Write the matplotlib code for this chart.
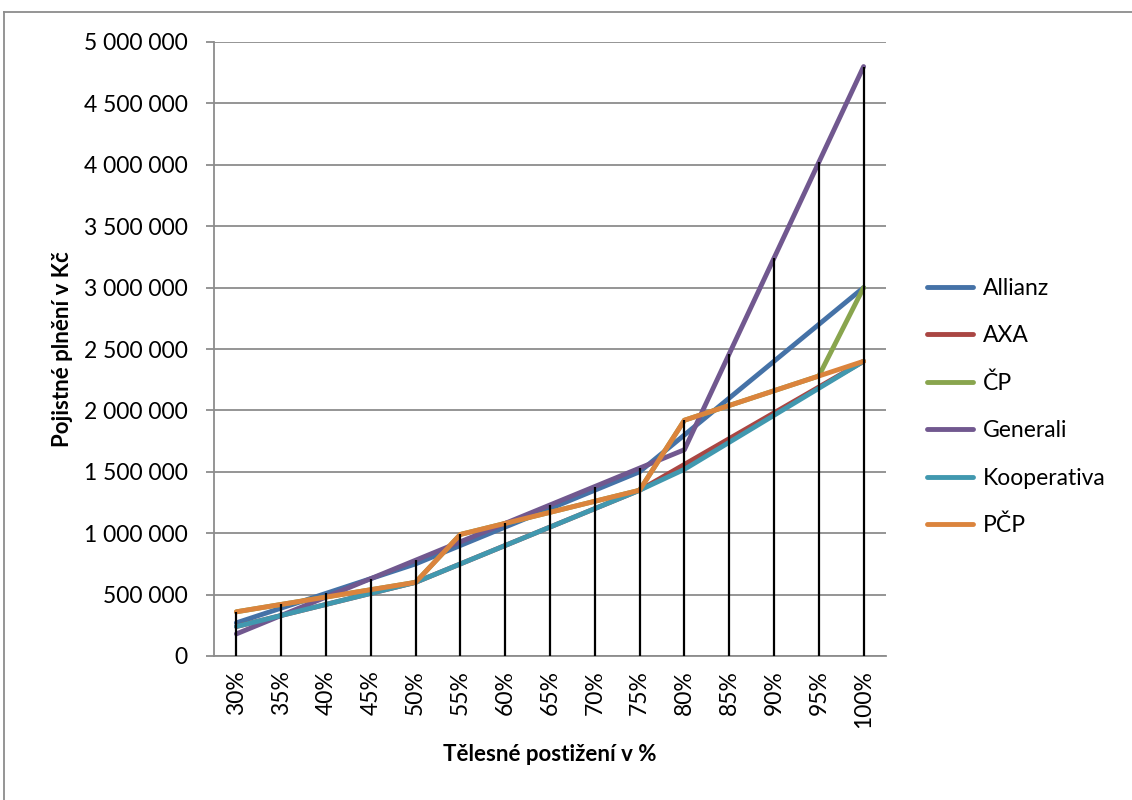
import numpy as np
import matplotlib.pyplot as plt
from matplotlib.lines import Line2D

plt.rcParams['font.family'] = ['Lato', 'DejaVu Sans']

kategorie = ['30%', '35%', '40%', '45%', '50%', '55%', '60%', '65%',
             '70%', '75%', '80%', '85%', '90%', '95%', '100%']

# pojistné plnění v Kč
allianz = [270000, 390000, 510000, 630000, 750000, 900000, 1050000, 1200000,
           1350000, 1500000, 1800000, 2100000, 2400000, 2700000, 3000000]
axa = [240000, 330000, 420000, 510000, 600000, 750000, 900000, 1050000,
       1200000, 1350000, 1560000, 1770000, 1980000, 2190000, 2400000]
cp = [360000, 420000, 480000, 540000, 600000, 990000, 1080000, 1170000,
      1260000, 1350000, 1920000, 2040000, 2160000, 2280000, 3000000]
generali = [180000, 330000, 480000, 630000, 780000, 930000, 1080000, 1230000,
            1380000, 1530000, 1680000, 2460000, 3240000, 4020000, 4800000]
kooperativa = [240000, 330000, 420000, 510000, 600000, 750000, 900000, 1050000,
               1200000, 1350000, 1520000, 1740000, 1960000, 2180000, 2400000]
pcp = [360000, 420000, 480000, 540000, 600000, 990000, 1080000, 1170000,
       1260000, 1350000, 1920000, 2040000, 2160000, 2280000, 2400000]

serie = [('Allianz', allianz, '#4572A7'),
         ('AXA', axa, '#AA4643'),
         ('ČP', cp, '#89A54E'),
         ('Generali', generali, '#71588F'),
         ('Kooperativa', kooperativa, '#4198AF'),
         ('PČP', pcp, '#DB843D')]

fig = plt.figure(figsize=(11.32, 8), dpi=100)
ax = fig.add_axes([214/1132, 1-656/800, (886-214)/1132, (656-42)/800])

x = np.arange(len(kategorie))
for nazev, hodnoty, barva in serie:
    ax.plot(x, hodnoty, color=barva, lw=3.5, label=nazev,
            solid_capstyle='round', solid_joinstyle='round', zorder=3)

# svislé spojnice od maxima k ose
maxima = np.max([h for _, h, _ in serie], axis=0)
ax.vlines(x, 0, maxima, color='black', lw=1.6, zorder=4)

ax.set_xlim(-0.5, len(kategorie) - 0.5)
ax.set_ylim(0, 5000000)
ax.set_yticks(np.arange(0, 5000001, 500000))
ax.set_yticklabels(['{:,}'.format(v).replace(',', ' ') for v in range(0, 5000001, 500000)])
ax.set_xticks(x)
ax.set_xticklabels(kategorie, rotation=90)
ax.yaxis.grid(True, color='#8c8c8c', lw=1.3)
ax.set_axisbelow(True)

for s in ['top', 'right']:
    ax.spines[s].set_visible(False)
for s in ['left', 'bottom']:
    ax.spines[s].set_color('#8c8c8c')
    ax.spines[s].set_linewidth(1.3)

ax.tick_params(axis='y', length=6, width=1.3, color='#8c8c8c', pad=13, labelsize=16.5)
ax.tick_params(axis='x', length=0, pad=10, labelsize=16.5)

ax.set_ylabel('Pojistné plnění v Kč', fontsize=16, fontweight='bold', labelpad=8)
ax.set_xlabel('Tělesné postižení v %', fontsize=16, fontweight='bold', labelpad=12)

fig.legend(loc='center left', bbox_to_anchor=(927/1132, 1-407/800), frameon=False,
           fontsize=16.5, handlelength=2.0, handletextpad=0.45, labelspacing=1.15,
           borderpad=0, borderaxespad=0)

# rámeček grafu
fig.add_artist(Line2D([4/1132, 1], [1-12/800, 1-12/800], color='#8c8c8c', lw=1.3))
fig.add_artist(Line2D([4/1132, 4/1132], [0, 1-12/800], color='#8c8c8c', lw=1.3))

plt.savefig('out.png', dpi=100)
